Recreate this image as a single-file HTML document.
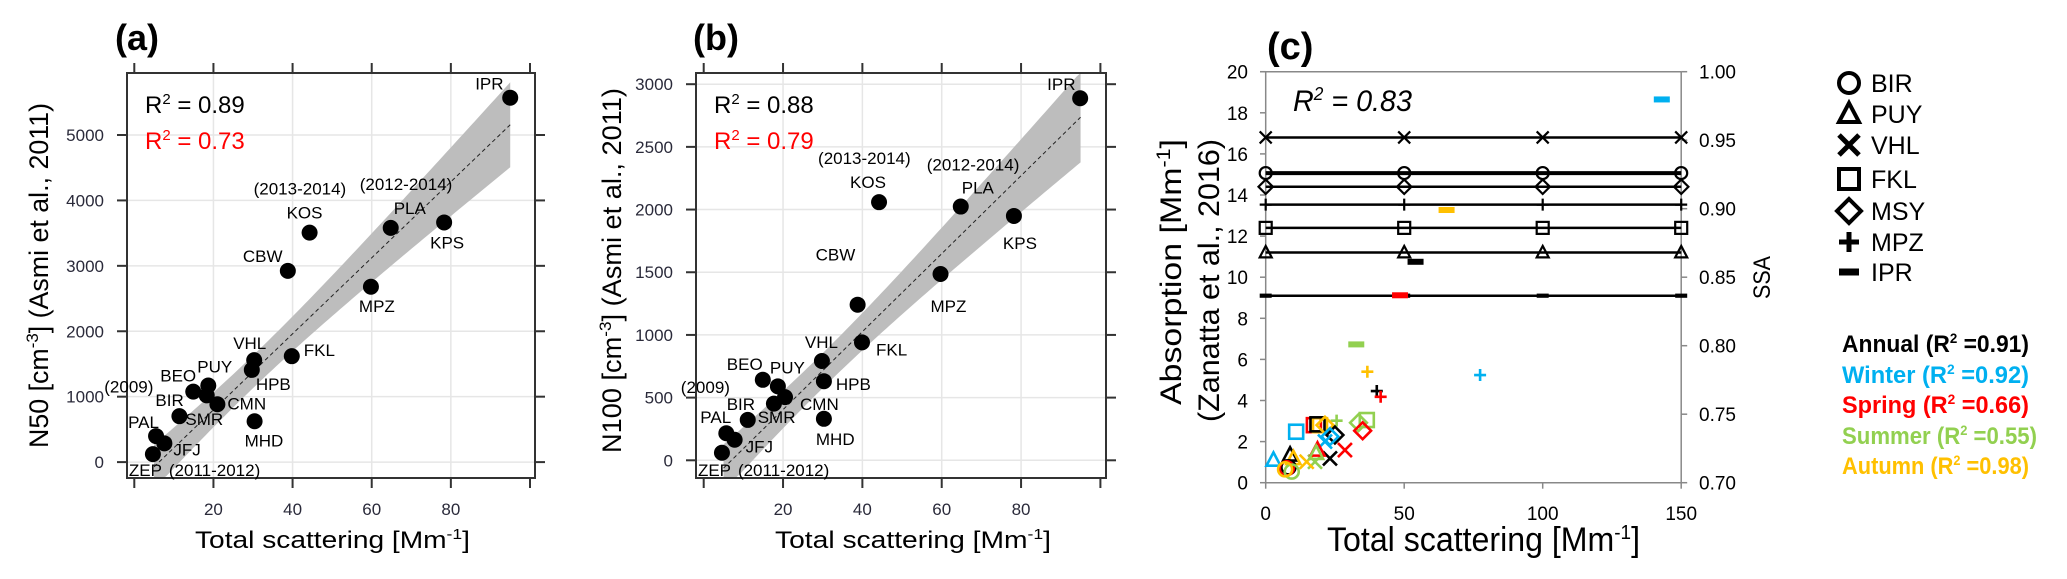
<!DOCTYPE html>
<html><head><meta charset="utf-8"><style>
html,body{margin:0;padding:0;background:#fff;}
svg{display:block;font-family:"Liberation Sans",sans-serif;}
</style></head><body>
<svg id="fig" width="2067" height="579" viewBox="0 0 2067 579" xmlns="http://www.w3.org/2000/svg">
<g id="pa"></g>
<g id="pb"></g>
<g id="pc"></g>
<g id="leg"></g>
</svg>
<script>
// ---------- data ----------
const sites = ['IPR','PLA','KPS','KOS','CBW','MPZ','FKL','VHL','HPB','PUY','BEO','CMN','MHD','BIR','PAL','JFJ','ZEP'];
const scatA = [95,64.8,78.3,44.3,38.8,59.8,39.8,30.3,29.7,18.7,14.9,21,30.4,11.4,5.5,7.6,4.7];
const n50 = [5570,3580,3663,3508,2923,2680,1619,1558,1409,1171,1077,884,624,702,398,287,122];
const scatB = [94.9,64.8,78.2,44.2,38.8,59.7,39.9,29.8,30.3,18.7,14.9,20.5,30.3,11.1,5.7,7.8,4.6];
const n100 = [2888,2024,1949,2059,1241,1486,941,792,631,590,642,504,331,322,216,164,60];
const extraPtsB_x = [17.7];
const extraPtsB_y = [452];
const extraPtsA_x = [18.3];
const extraPtsA_y = [1020];
const fitA = [-363, 58.1];
const fitB = [-218, 31.1];
const bandA = [250, 85, 30];   // half-width at mean, curvature, mean x
const bandB = [140, 26, 30];
const r2A = ['0.89','0.73'];
const r2B = ['0.88','0.79'];
const xTicksAB = [20,40,60,80];
const yTicksA = [0,1000,2000,3000,4000,5000];
const yTicksB = [0,500,1000,1500,2000,2500,3000];

const ssaSites = ['VHL','BIR','MSY','MPZ','FKL','PUY','IPR'];
const ssaShapes = ['x','o','d','+','s','t','-'];
const ssaVals = [0.952,0.926,0.916,0.903,0.886,0.868,0.8365];
const ssaXs = [0,50,100,150];
const iprSeasonColor = ['w','au','a','sp','su'];
const iprSeasonX = [143,65.3,54.1,48.5,32.7];
const iprSeasonY = [18.65,13.27,10.75,9.12,6.73];
const scSeason = ['au','w','a','sp','su','su','su','sp','w','sp','au','a','au','a','w','w','sp','a','su','au','sp','su','w','a','au','a','sp','su','au'];
const scShape  = ['+','+','+','+','+','s','d','d','s','s','s','s','d','d','d','x','x','x','x','x','t','t','t','t','t','o','o','o','o'];
const scX = [36.7,77.4,40.1,41.5,25.6,36.5,33.5,35,11,17.4,19.6,18.7,21.4,25,23.2,21.4,28.6,23.2,17.8,14.8,18.7,18.2,2.8,8.8,10,8.2,7.6,9.4,7];
const scY = [5.4,5.24,4.46,4.18,3.02,3.05,2.92,2.53,2.48,2.8,2.8,2.84,2.8,2.32,2.24,2.0,1.59,1.18,1.02,1.02,1.59,1.43,1.1,1.35,1.18,0.75,0.7,0.54,0.65];
const cXTicks = [0,50,100,150];
const cYTicks = [0,2,4,6,8,10,12,14,16,18,20];
const cSSATicks = ['0.70','0.75','0.80','0.85','0.90','0.95','1.00'];
const legSites = ['BIR','PUY','VHL','FKL','MSY','MPZ','IPR'];
const legShapes = ['o','t','x','s','d','+','-'];
const seasonNames = ['Annual','Winter','Spring','Summer','Autumn'];
const seasonR2 = ['0.91','0.92','0.66','0.55','0.98'];
const seasonKeys = ['a','w','sp','su','au'];
const COL = {a:'#000000', w:'#00b0f0', sp:'#ff0000', su:'#92d050', au:'#ffc000'};

// ---------- helpers ----------
const NS='http://www.w3.org/2000/svg';
function mk(parent, tag, attrs, txt){
  const e=document.createElementNS(NS,tag);
  for(const k in attrs) e.setAttribute(k, attrs[k]);
  if(txt!==undefined) e.textContent=txt;
  parent.appendChild(e); return e;
}

// label offsets (styling, pixel) keyed by site for panels a and b
const offA = {IPR:[-35,-8],PLA:[3,-14],KPS:[-14,26],KOS:[-23,-14],CBW:[-45,-9],MPZ:[-12,25],FKL:[12,0],VHL:[-21,-11],HPB:[4,20],PUY:[-11,-13],BEO:[-33,-10],CMN:[10,5],MHD:[-10,25],BIR:[-24,-10],PAL:[-28,-8],JFJ:[9,12],ZEP:[-24,22]};
const extraA = [['PLA','(2012-2014)',-31,-38],['KOS','(2013-2014)',-56,-38],['BEO','(2009)',-89,1],['BIR','SMR',6,9],['ZEP','(2011-2012)',16,22]];
const offB = {IPR:[-33,-8],PLA:[1,-13],KPS:[-11,33],KOS:[-29,-14],CBW:[-42,-44],MPZ:[-10,38],FKL:[14,13],VHL:[-17,-13],HPB:[12,9],PUY:[-8,-13],BEO:[-36,-10],CMN:[15,13],MHD:[-8,26],BIR:[-21,-10],PAL:[-26,-10],JFJ:[11,13],ZEP:[-24,23]};
const extraB = [['PLA','(2012-2014)',-34,-36],['KOS','(2013-2014)',-61,-38],['BEO','(2009)',-82,13],['BIR','SMR',10,3],['ZEP','(2011-2012)',16,23]];

function scatterPanel(g, cfg){
  const {X,Y,frame,xs,ys,yTicks,fit,band,r2,off,extra,exX,exY,letter,letterX,ytitle,ytX,ytY1,ytY2,xtX1,xtX2,yTickRight} = cfg;
  const [L,R,T,B]=frame;
  // grid
  xTicksAB.forEach(v=>{const l=mk(g,'line',{x1:X(v),x2:X(v),y1:T,y2:B,stroke:'#e6e6e6','stroke-width':1.5});
    
    });
  yTicks.forEach(v=>{const l=mk(g,'line',{x1:L,x2:R,y1:Y(v),y2:Y(v),stroke:'#e6e6e6','stroke-width':1.5});
    
    });
  // band
  const x0=5, x1=95; let up=[],dn=[];
  for(let v=x0; v<=x1+0.01; v+=1){
    const c=fit[0]+fit[1]*v; const hw=Math.sqrt(band[0]*band[0]+band[1]*(v-band[2])*(v-band[2]));
    up.push(X(v)+','+Math.max(T,Y(c+hw))); dn.unshift(X(v)+','+Math.min(B,Y(c-hw)));
  }
  const bp=mk(g,'polygon',{points:up.concat(dn).join(' '),fill:'#bdbdbd'});
  
  
  const fl=mk(g,'line',{x1:X(x0),y1:Y(fit[0]+fit[1]*x0),x2:X(x1),y2:Y(fit[0]+fit[1]*x1),stroke:'#222','stroke-width':1,'stroke-dasharray':'4 3'});
  
  
  // frame + ticks
  const fr=mk(g,'rect',{x:L,y:T,width:R-L,height:B-T,fill:'none',stroke:'#333','stroke-width':2});
  
  
  [0,20,40,60,80,100].forEach(v=>{
    mk(g,'line',{x1:X(v),x2:X(v),y1:T-10,y2:T,stroke:'#333','stroke-width':2});
    mk(g,'line',{x1:X(v),x2:X(v),y1:B,y2:B+10,stroke:'#333','stroke-width':2});
  });
  xTicksAB.forEach(v=>{const t=mk(g,'text',{x:X(v),y:515,'text-anchor':'middle','font-size':17,fill:'#2a2a3a'},String(v));
    
    });
  yTicks.forEach(v=>{
    mk(g,'line',{x1:L-10,x2:L,y1:Y(v),y2:Y(v),stroke:'#333','stroke-width':2});
    mk(g,'line',{x1:R,x2:R+10,y1:Y(v),y2:Y(v),stroke:'#333','stroke-width':2});
    const t=mk(g,'text',{x:yTickRight,y:Y(v)+6,'text-anchor':'end','font-size':17,fill:'#2a2a3a'},String(v));
    
    
  });
  // points
  xs.forEach((v,i)=>{
    const c=mk(g,'circle',{cx:X(v),cy:Y(ys[i]),r:8,fill:'#000'});
    
    
    const o=off[sites[i]];
    const t=mk(g,'text',{x:X(v)+o[0],y:Y(ys[i])+o[1],'font-size':17,fill:'#000'},sites[i]);
    
    
  });
  exX.forEach((v,i)=>{const c=mk(g,'circle',{cx:X(v),cy:Y(exY[i]),r:8,fill:'#000'});
    
    });
  extra.forEach(e=>{
    const i=sites.indexOf(e[0]);
    const t=mk(g,'text',{x:X(xs[i])+e[2],y:Y(ys[i])+e[3],'font-size':17,fill:'#000'},e[1]);
    
    
  });
  // R2
  const t1=mk(g,'text',{x:L+18,y:113,'font-size':24,fill:'#000'});
  
  
  t1.innerHTML='R<tspan dy="-9" font-size="15">2</tspan><tspan dy="9"> = '+r2[0]+'</tspan>';
  const t2=mk(g,'text',{x:L+18,y:149,'font-size':24,fill:'#ff0000'});
  
  
  t2.innerHTML='R<tspan dy="-9" font-size="15">2</tspan><tspan dy="9"> = '+r2[1]+'</tspan>';
  // titles
  const lt=mk(g,'text',{x:letterX,y:50,'font-size':36,'font-weight':'bold',fill:'#000'},letter);
  
  
  const yt=mk(g,'text',{transform:'translate('+ytX+','+ytY2+') rotate(-90)','font-size':27,fill:'#000',textLength:ytY2-ytY1,lengthAdjust:'spacingAndGlyphs'});
  
  
  yt.innerHTML=ytitle+' [cm<tspan dy="-10" font-size="17">-3</tspan><tspan dy="10">] (Asmi et al., 2011)</tspan>';
  const xt=mk(g,'text',{x:xtX1,y:548,'font-size':24,fill:'#000',textLength:xtX2-xtX1,lengthAdjust:'spacingAndGlyphs'});
  
  
  xt.innerHTML='Total scattering [Mm<tspan dy="-9" font-size="15">-1</tspan><tspan dy="9">]</tspan>';
}

const XA=v=>134.3+v*3.957, YA=v=>462.1-v*0.06542;
const XB=v=>703.7+v*3.967, YB=v=>460.3-v*0.12537;
scatterPanel(document.getElementById('pa'),{X:XA,Y:YA,frame:[127,535,73,478],xs:scatA,ys:n50,yTicks:yTicksA,fit:fitA,band:bandA,r2:r2A,off:offA,extra:extraA,exX:extraPtsA_x,exY:extraPtsA_y,letter:'(a)',letterX:115,ytitle:'N50',ytX:48,ytY1:103,ytY2:448,xtX1:195,xtX2:470,yTickRight:104});
scatterPanel(document.getElementById('pb'),{X:XB,Y:YB,frame:[696,1106,73,478],xs:scatB,ys:n100,yTicks:yTicksB,fit:fitB,band:bandB,r2:r2B,off:offB,extra:extraB,exX:extraPtsB_x,exY:extraPtsB_y,letter:'(b)',letterX:693,ytitle:'N100',ytX:621,ytY1:88,ytY2:453,xtX1:775,xtX2:1051,yTickRight:673});

// ---------- panel c ----------
function marker(g, shape, cx, cy, s, col, sw){
  let e;
  if(shape==='o') e=mk(g,'circle',{cx,cy,r:s,fill:'none',stroke:col,'stroke-width':sw});
  else if(shape==='s') e=mk(g,'rect',{x:cx-s,y:cy-s,width:2*s,height:2*s,fill:'none',stroke:col,'stroke-width':sw});
  else if(shape==='d') e=mk(g,'polygon',{points:`${cx},${cy-s*1.2} ${cx+s*1.2},${cy} ${cx},${cy+s*1.2} ${cx-s*1.2},${cy}`,fill:'none',stroke:col,'stroke-width':sw});
  else if(shape==='t') e=mk(g,'polygon',{points:`${cx},${cy-s*1.1} ${cx+s},${cy+s*0.8} ${cx-s},${cy+s*0.8}`,fill:'none',stroke:col,'stroke-width':sw});
  else if(shape==='x') e=mk(g,'path',{d:`M${cx-s} ${cy-s}L${cx+s} ${cy+s}M${cx+s} ${cy-s}L${cx-s} ${cy+s}`,stroke:col,'stroke-width':sw});
  else if(shape==='+') e=mk(g,'path',{d:`M${cx-s} ${cy}L${cx+s} ${cy}M${cx} ${cy-s}L${cx} ${cy+s}`,stroke:col,'stroke-width':sw});
  else e=mk(g,'rect',{x:cx-s,y:cy-s*0.35,width:2*s,height:s*0.7,fill:col});
  return e;
}
(function(){
  const g=document.getElementById('pc');
  const XC=v=>1265.7+v*2.77, YC=v=>482.7-v*20.55;
  const YS=s=>YC((s-0.7)/0.3*20);
  const NF='"Liberation Sans Narrow","Liberation Sans",sans-serif';
  // axes
  mk(g,'line',{x1:1265.7,x2:1265.7,y1:YC(20),y2:YC(0),stroke:'#888','stroke-width':1.5});
  mk(g,'line',{x1:XC(150),x2:XC(150),y1:YC(20),y2:YC(0),stroke:'#888','stroke-width':1.5});
  mk(g,'line',{x1:1265.7,x2:XC(150),y1:YC(0),y2:YC(0),stroke:'#888','stroke-width':1.5});
  mk(g,'line',{x1:1260,x2:XC(150),y1:YC(20),y2:YC(20),stroke:'#888','stroke-width':1.5});
  cYTicks.forEach(v=>{
    mk(g,'line',{x1:1260,x2:1265.7,y1:YC(v),y2:YC(v),stroke:'#888','stroke-width':1.5});
    const t=mk(g,'text',{x:1248,y:YC(v)+7,'text-anchor':'end','font-size':19,'font-family':NF,fill:'#000'},String(v));
    
    
  });
  cSSATicks.forEach((v,i)=>{
    const y=YS(parseFloat(v));
    mk(g,'line',{x1:XC(150),x2:XC(150)+6,y1:y,y2:y,stroke:'#888','stroke-width':1.5});
    const t=mk(g,'text',{x:1699,y:y+7,'font-size':19,'font-family':NF,fill:'#000'},v);
    
    
  });
  cXTicks.forEach(v=>{
    mk(g,'line',{x1:XC(v),x2:XC(v),y1:YC(0),y2:YC(0)+6,stroke:'#888','stroke-width':1.5});
    const t=mk(g,'text',{x:XC(v),y:520,'text-anchor':'middle','font-size':19,'font-family':NF,fill:'#000'},String(v));
    
    
  });
  // SSA lines
  ssaVals.forEach((s,i)=>{
    const y=YS(s);
    const l=mk(g,'line',{x1:XC(0),x2:XC(150),y1:y,y2:y,stroke:'#000','stroke-width':ssaShapes[i]==='o'?4:2.5});
    
    
    ssaXs.forEach(x=>{const m=marker(g,ssaShapes[i],XC(x),y,ssaShapes[i]==='-'?6:6,'#000',2.2);
      
      });
  });
  iprSeasonX.forEach((x,i)=>{
    const m=mk(g,'rect',{x:XC(x)-8,y:YC(iprSeasonY[i])-3,width:16,height:6,fill:COL[iprSeasonColor[i]]});
    
    
  });
  scX.forEach((x,i)=>{
    const m=marker(g,scShape[i],XC(x),YC(scY[i]),scShape[i]==='+'?6:7,COL[scSeason[i]],2.6);
    
    
  });
  // texts
  const lc=mk(g,'text',{x:1267,y:59,'font-size':38,'font-weight':'bold','font-family':NF,fill:'#000'},'(c)');
  
  
  const r=mk(g,'text',{x:1293,y:111,'font-size':30,'font-style':'italic','font-family':NF,fill:'#000',textLength:119,lengthAdjust:'spacingAndGlyphs'});
  
  
  r.innerHTML='R<tspan dy="-11" font-size="18">2</tspan><tspan dy="11"> = 0.83</tspan>';
  const yt1=mk(g,'text',{transform:'translate(1181,405) rotate(-90)','font-size':30,fill:'#000',textLength:266,lengthAdjust:'spacingAndGlyphs'});
  
  
  yt1.innerHTML='Absorption  [Mm<tspan dy="-11" font-size="19">-1</tspan><tspan dy="11">]</tspan>';
  const yt2=mk(g,'text',{transform:'translate(1219,422) rotate(-90)','font-size':30,fill:'#000',textLength:283,lengthAdjust:'spacingAndGlyphs'},'(Zanatta et al., 2016)');
  
  
  const ss=mk(g,'text',{transform:'translate(1770,299) rotate(-90)','font-size':24,fill:'#000',textLength:43,lengthAdjust:'spacingAndGlyphs'},'SSA');
  
  
  const xt=mk(g,'text',{x:1327,y:551,'font-size':34,'font-family':NF,fill:'#000',textLength:313,lengthAdjust:'spacingAndGlyphs'});
  
  
  xt.innerHTML='Total scattering [Mm<tspan dy="-12" font-size="20">-1</tspan><tspan dy="12">]</tspan>';
})();

// ---------- legend ----------
(function(){
  const g=document.getElementById('leg');
  const rows=[83,114,145,179,211,242,272];
  legSites.forEach((s,i)=>{
    const m=marker(g,legShapes[i],1849,rows[i],legShapes[i]==='-'?10:(legShapes[i]==='d'?10:10),'#000',legShapes[i]==='+'||legShapes[i]==='x'?5:4);
    
    
    const t=mk(g,'text',{x:1871,y:rows[i]+9,'font-size':25,fill:'#000'},s);
    
    
  });
  const base=[352,383,413,444,474];
  seasonNames.forEach((s,i)=>{
    const t=mk(g,'text',{x:1842,y:base[i],'font-size':24,'font-weight':'bold',fill:COL[seasonKeys[i]],textLength:187+(i===3?8:0),lengthAdjust:'spacingAndGlyphs'});
    
    
    t.innerHTML=s+' (R<tspan dy="-9" font-size="14">2</tspan><tspan dy="9"> =' + seasonR2[i]+')</tspan>';
  });
})();
</script>
</body></html>
